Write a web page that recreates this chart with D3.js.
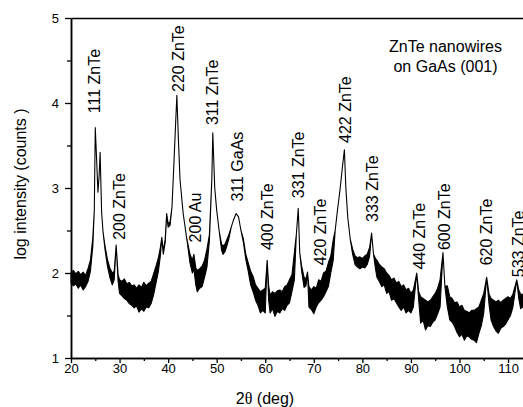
<!DOCTYPE html>
<html>
<head>
<meta charset="utf-8">
<script src="https://cdn.jsdelivr.net/npm/d3@7"></script>
<style>
  body { margin: 0; background: #fff; }
  text { font-family: "Liberation Sans", Arial, sans-serif; fill: #000; }
</style>
</head>
<body>
<script>
// scan: 2theta, lower and upper edge of the noisy trace (log counts)
var twoTheta = [
  20.0, 20.5, 21.0, 21.5, 22.0, 22.5, 23.0, 23.5, 24.0, 24.5,
  24.8, 25.0, 25.3, 25.55, 25.8, 26.0, 26.3, 26.6, 27.0, 27.5,
  28.0, 28.5, 28.9, 29.3, 29.7, 30.0, 30.5, 31.0, 31.5, 32.0,
  32.5, 33.0, 33.5, 34.0, 34.5, 35.0, 35.5, 36.0, 36.5, 37.0,
  37.5, 38.0, 38.4, 38.7, 39.0, 39.4, 39.7, 40.0, 40.4, 40.8,
  41.2, 41.5, 41.8, 42.1, 42.45, 43.1, 43.8, 44.5, 45.0, 45.3,
  45.7, 46.0, 46.5, 47.0, 47.5, 48.0, 48.5, 49.0, 49.2, 49.6,
  50.0, 50.5, 51.0, 51.3, 51.7, 52.0, 52.5, 53.0, 53.5, 54.0,
  54.5, 55.0, 55.5, 56.0, 56.5, 57.0, 57.5, 58.0, 58.5, 59.0,
  59.5, 60.0, 60.4, 60.7, 61.0, 61.5, 62.0, 62.5, 63.0, 63.5,
  64.0, 64.5, 65.0, 65.5, 66.0, 66.4, 66.8, 67.1, 67.5, 68.0,
  68.4, 68.7, 69.0, 69.5, 70.0, 70.5, 71.0, 71.5, 72.0, 72.5,
  73.0, 73.5, 74.0, 74.4, 74.9, 75.4, 75.9, 76.3, 76.6, 77.0,
  77.5, 78.0, 78.5, 79.0, 79.5, 80.0, 80.5, 81.0, 81.5, 81.9,
  82.3, 82.7, 83.0, 83.5, 84.0, 84.5, 85.0, 85.5, 86.0, 86.5,
  87.0, 87.5, 88.0, 88.5, 89.0, 89.5, 90.0, 90.5, 91.2, 91.6,
  92.0, 92.5, 93.0, 93.5, 94.0, 94.5, 95.0, 95.5, 96.0, 96.6,
  97.0, 97.5, 98.0, 98.5, 99.0, 99.5, 100.0, 100.5, 101.0, 101.5,
  102.0, 102.5, 103.0, 103.5, 104.0, 104.5, 105.0, 105.6, 106.1, 106.5,
  107.0, 107.5, 108.0, 108.5, 109.0, 109.5, 110.0, 110.5, 111.0, 111.8,
  112.2, 112.6, 113.0, 113.5
];
var logLow = [
  1.88, 1.85, 1.87, 1.82, 1.86, 1.80, 1.84, 1.90, 2.02, 2.32,
  2.74, 3.71, 3.30, 2.95, 3.15, 3.42, 2.72, 2.48, 2.28, 2.08,
  1.95, 1.86, 1.92, 2.33, 1.90, 1.76, 1.73, 1.70, 1.68, 1.64,
  1.62, 1.59, 1.61, 1.54, 1.58, 1.55, 1.60, 1.59, 1.64, 1.74,
  1.88, 2.02, 2.20, 2.42, 2.22, 2.36, 2.68, 2.54, 2.56, 2.78,
  3.30, 3.70, 4.09, 3.60, 3.10, 2.70, 2.42, 2.12, 2.00, 2.05,
  1.86, 1.78, 1.82, 1.84, 1.95, 2.07, 2.38, 3.10, 3.65, 3.00,
  2.74, 2.50, 2.27, 2.22, 2.25, 2.30, 2.40, 2.54, 2.63, 2.70,
  2.66, 2.50, 2.36, 2.16, 2.02, 1.86, 1.78, 1.68, 1.62, 1.53,
  1.56, 1.53, 2.15, 1.68, 1.53, 1.58, 1.49, 1.55, 1.53, 1.58,
  1.56, 1.62, 1.65, 1.78, 1.92, 2.45, 2.76, 2.24, 2.02, 1.83,
  1.85, 2.01, 1.60, 1.57, 1.52, 1.60, 1.65, 1.68, 1.72, 1.78,
  1.84, 2.00, 2.15, 2.50, 2.75, 2.98, 3.25, 3.45, 3.00, 2.65,
  2.40, 2.22, 2.10, 2.07, 2.05, 2.07, 2.06, 2.10, 2.20, 2.47,
  2.22, 2.05, 1.95, 1.90, 1.84, 1.86, 1.76, 1.78, 1.68, 1.70,
  1.65, 1.60, 1.56, 1.60, 1.53, 1.56, 1.53, 1.60, 2.00, 1.68,
  1.41, 1.45, 1.33, 1.38, 1.37, 1.42, 1.45, 1.52, 1.60, 2.24,
  1.84, 1.60, 1.45, 1.42, 1.37, 1.30, 1.25, 1.28, 1.21, 1.26,
  1.25, 1.22, 1.21, 1.18, 1.29, 1.38, 1.53, 1.95, 1.62, 1.45,
  1.37, 1.32, 1.29, 1.35, 1.37, 1.40, 1.45, 1.50, 1.60, 1.92,
  1.70, 1.58, 1.60, 1.62
];
var logHigh = [
  2.00, 2.03, 1.99, 2.02, 1.98, 2.01, 1.97, 2.05, 2.15, 2.42,
  2.74, 3.71, 3.30, 2.95, 3.15, 3.42, 2.72, 2.48, 2.32, 2.16,
  2.06, 2.00, 2.02, 2.33, 1.98, 1.92, 1.90, 1.93, 1.87, 1.89,
  1.85, 1.86, 1.82, 1.86, 1.83, 1.89, 1.85, 1.88, 1.90, 1.99,
  2.08, 2.18, 2.30, 2.42, 2.26, 2.40, 2.70, 2.58, 2.60, 2.78,
  3.30, 3.70, 4.09, 3.60, 3.10, 2.70, 2.42, 2.22, 2.15, 2.22,
  2.06, 2.03, 2.05, 2.08, 2.15, 2.28, 2.45, 3.10, 3.65, 3.00,
  2.74, 2.50, 2.34, 2.32, 2.34, 2.38, 2.45, 2.54, 2.63, 2.70,
  2.66, 2.50, 2.40, 2.22, 2.12, 2.02, 1.96, 1.86, 1.82, 1.78,
  1.80, 1.82, 2.15, 1.85, 1.74, 1.78, 1.76, 1.79, 1.80, 1.78,
  1.84, 1.86, 1.92, 1.98, 2.24, 2.45, 2.76, 2.24, 2.08, 1.95,
  1.93, 2.01, 1.84, 1.80, 1.84, 1.82, 1.92, 1.90, 2.00, 2.02,
  2.12, 2.20, 2.39, 2.50, 2.75, 2.98, 3.25, 3.45, 3.00, 2.65,
  2.40, 2.28, 2.20, 2.18, 2.19, 2.17, 2.20, 2.22, 2.30, 2.47,
  2.22, 2.17, 2.15, 2.10, 2.07, 2.05, 2.00, 1.97, 1.92, 1.94,
  1.88, 1.90, 1.84, 1.86, 1.80, 1.82, 1.76, 1.80, 2.00, 1.78,
  1.72, 1.70, 1.68, 1.66, 1.68, 1.72, 1.76, 1.82, 1.92, 2.24,
  1.84, 1.85, 1.72, 1.70, 1.65, 1.66, 1.60, 1.62, 1.56, 1.55,
  1.53, 1.56, 1.56, 1.58, 1.60, 1.68, 1.76, 1.95, 1.75, 1.70,
  1.68, 1.66, 1.68, 1.65, 1.68, 1.70, 1.72, 1.70, 1.75, 1.92,
  1.80, 1.75, 1.75, 1.76
];

var xTicks = [20, 30, 40, 50, 60, 70, 80, 90, 100, 110];
var xMinorTicks = [25, 35, 45, 55, 65, 75, 85, 95, 105];
var yTicks = [1, 2, 3, 4, 5];
var yMinorTicks = [1.5, 2.5, 3.5, 4.5];

// peak labels: text, 2theta of the baseline, log value where the text starts
var peakNames = ["111 ZnTe", "200 ZnTe", "220 ZnTe", "200 Au", "311 ZnTe", "311 GaAs", "400 ZnTe",
                 "331 ZnTe", "420 ZnTe", "422 ZnTe", "333 ZnTe", "440 ZnTe", "600 ZnTe", "620 ZnTe", "533 ZnTe"];
var peakTheta = [26.07, 31.2, 43.17, 46.87, 50.17, 55.32, 61.5, 67.88, 72.41, 77.56, 83.32, 93.0, 98.15, 106.7, 113.2];
var peakLog   = [3.88, 2.39, 4.13, 2.36, 3.74, 2.84, 2.27, 2.88, 2.09, 3.53, 2.6, 2.04, 2.27, 2.09, 1.95];

var sampleLines = ["ZnTe nanowires", "on GaAs (001)"];

var W = 523, H = 407;
var svg = d3.select("body").append("svg")
    .attr("width", W)
    .attr("height", H);

var x = d3.scaleLinear().domain([20, 113.08]).range([71, 523]);
var y = d3.scaleLinear().domain([1, 5]).range([358, 18]);

// trace
var idx = d3.range(twoTheta.length);
svg.append("path")
    .datum(idx)
    .attr("fill", "#000")
    .attr("stroke", "#000")
    .attr("stroke-width", 1.1)
    .attr("stroke-linejoin", "round")
    .attr("d", d3.area()
      .x(function(i) { return x(twoTheta[i]); })
      .y0(function(i) { return y(logLow[i]); })
      .y1(function(i) { return y(logHigh[i]); })
    );

// axes
function styleAxis(g) {
  g.select(".domain").attr("stroke", "#000").attr("stroke-width", 1.5);
  g.selectAll(".tick line").attr("stroke", "#000").attr("stroke-width", 1.3);
  g.selectAll("text").style("font-size", "13px").attr("fill", "#000");
}

svg.append("g")
    .attr("transform", "translate(0," + y(1) + ")")
    .call(d3.axisBottom(x).tickValues(xMinorTicks).tickSize(3).tickFormat("").tickSizeOuter(0))
    .call(styleAxis);
svg.append("g")
    .attr("transform", "translate(0," + y(1) + ")")
    .call(d3.axisBottom(x).tickValues(xTicks).tickSize(5).tickPadding(1).tickSizeOuter(0))
    .call(styleAxis);

svg.append("g")
    .attr("transform", "translate(" + x(20) + ",0)")
    .call(d3.axisLeft(y).tickValues(yMinorTicks).tickSize(4).tickFormat("").tickSizeOuter(0))
    .call(styleAxis);
svg.append("g")
    .attr("transform", "translate(" + x(20) + ",0)")
    .call(d3.axisLeft(y).tickValues(yTicks).tickFormat(d3.format("d")).tickSize(6).tickPadding(6).tickSizeOuter(0))
    .call(styleAxis);

// top frame
svg.append("g")
    .attr("transform", "translate(0," + y(5) + ")")
    .call(d3.axisTop(x).tickValues([]).tickSizeOuter(0))
    .call(styleAxis);

// axis titles
var xt = svg.append("text")
    .attr("x", 265)
    .attr("y", 404)
    .attr("text-anchor", "middle")
    .style("font-size", "16px");
xt.append("tspan").text("2");
xt.append("tspan").style("font-family", "'Liberation Serif', serif").text("\u03b8");
xt.append("tspan").text(" (deg)");

svg.append("text")
    .attr("transform", "translate(26,184) rotate(-90)")
    .attr("text-anchor", "middle")
    .style("font-size", "16px")
    .text("log intensity (counts )");

// peak labels
svg.append("g")
  .selectAll("text")
  .data(peakNames)
  .enter()
  .append("text")
    .attr("transform", function(d, i) {
      return "translate(" + x(peakTheta[i]) + "," + y(peakLog[i]) + ") rotate(-90)";
    })
    .style("font-size", "16px")
    .text(function(d) { return d; });

// sample note
svg.append("text")
    .attr("x", x(97.12))
    .attr("y", y(4.6))
    .attr("text-anchor", "middle")
    .style("font-size", "16px")
  .selectAll("tspan")
  .data(sampleLines)
  .enter()
  .append("tspan")
    .attr("x", x(97.12))
    .attr("dy", function(d, i) { return i ? 20 : 0; })
    .text(function(d) { return d; });
</script>
</body>
</html>
